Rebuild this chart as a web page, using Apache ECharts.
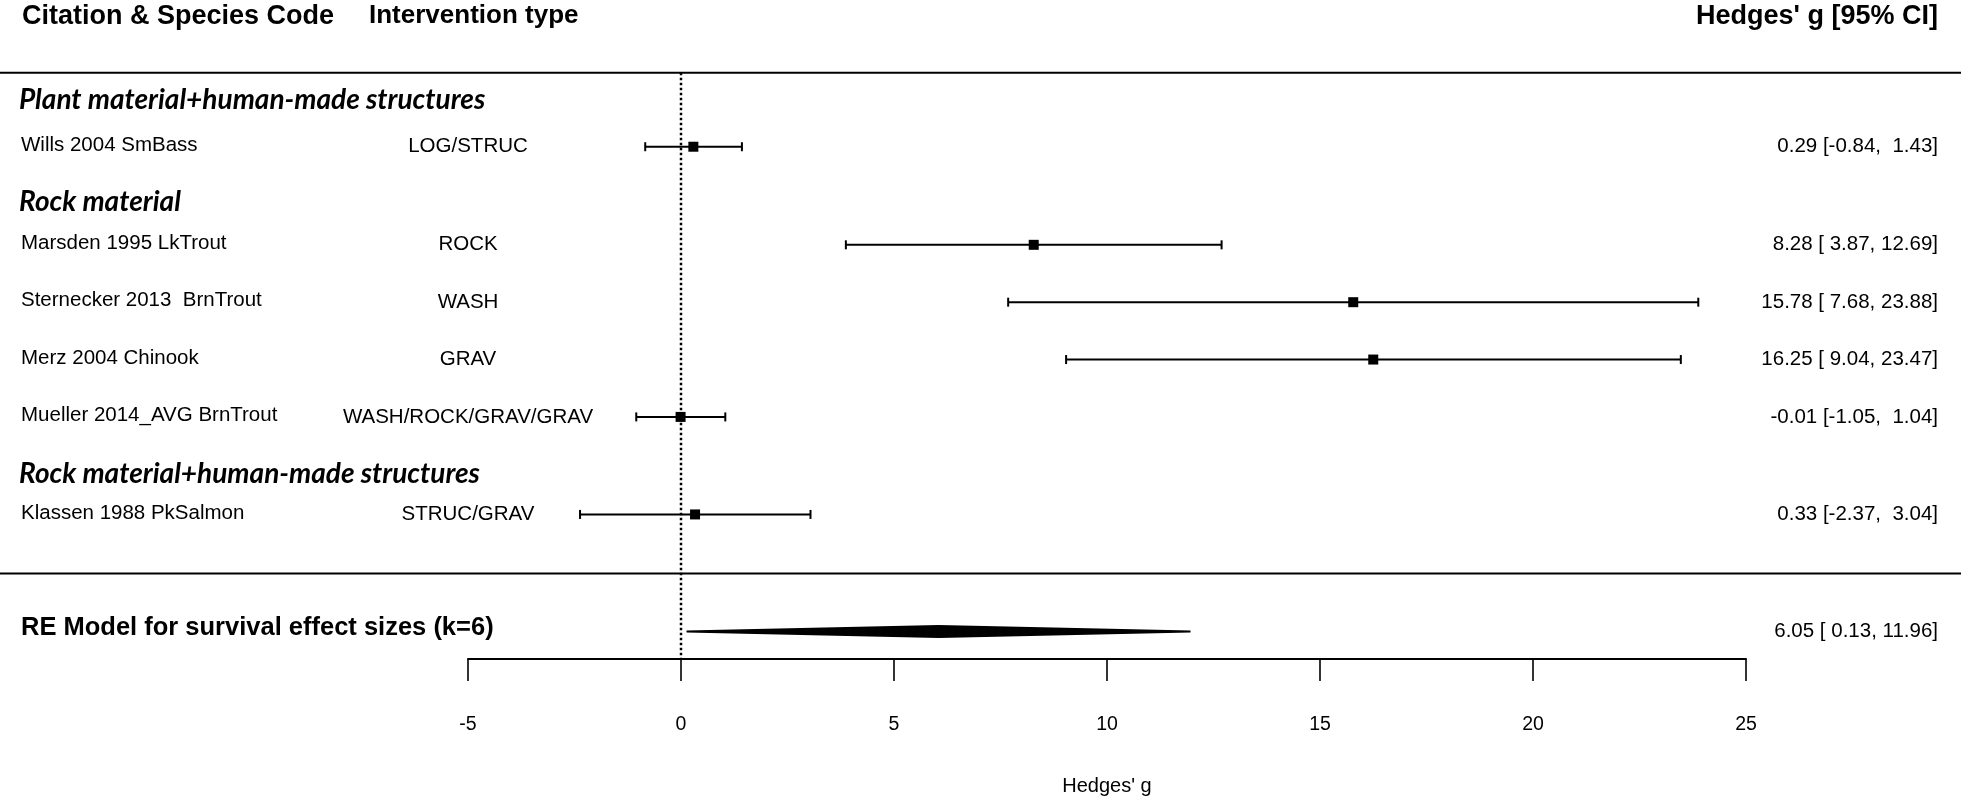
<!DOCTYPE html>
<html><head><meta charset="utf-8">
<script src="https://cdn.jsdelivr.net/npm/echarts@6/dist/echarts.min.js"></script>
<style>html,body{margin:0;padding:0;background:#fff}#c{width:1961px;height:801px}</style>
</head><body><div id="c"></div>
<script>
// ---- data ----
const studies = ["Wills 2004 SmBass", "Marsden 1995 LkTrout", "Sternecker 2013  BrnTrout", "Merz 2004 Chinook", "Mueller 2014_AVG BrnTrout", "Klassen 1988 PkSalmon"];
const interventions = ["LOG/STRUC", "ROCK", "WASH", "GRAV", "WASH/ROCK/GRAV/GRAV", "STRUC/GRAV"];
const estimates = [0.29, 8.28, 15.78, 16.25, -0.01, 0.33];
const lowerCI = [-0.84, 3.87, 7.68, 9.04, -1.05, -2.37];
const upperCI = [1.43, 12.69, 23.88, 23.47, 1.04, 3.04];
const studyRows = [1.32, 3.03, 4.03, 5.03, 6.03, 7.73];
const groupLabels = ["Plant material+human-made structures", "Rock material", "Rock material+human-made structures"];
const groupRows = [0.5, 2.29, 7.02];
const summaryLabel = "RE Model for survival effect sizes (k=6)";
const summary = [6.05, 0.13, 11.96];
const summaryRow = 9.77;
const separatorRows = [0.03, 8.76];
const xTicks = [-5, 0, 5, 10, 15, 20, 25];
const headers = ["Citation & Species Code", "Intervention type", "Hedges' g [95% CI]"];
const xLabel = "Hedges' g";

// ---- layout ----
const Y_MAX = 10.25;
const FONT = "'Liberation Sans', Arial, sans-serif";
const FS = 20.5;
const COL_STUDY = 21, COL_INT = 468, COL_CI = 1938;

function pad5(v) { let s = v.toFixed(2); while (s.length < 5) s = ' ' + s; return s; }
function ciText(e, l, u) { return e.toFixed(2) + ' [' + pad5(l) + ', ' + pad5(u) + ']'; }

const studyData = estimates.map((e, i) => [e, studyRows[i], lowerCI[i], upperCI[i], i]);

const chart = echarts.init(document.getElementById('c'), null, { renderer: 'canvas' });
chart.setOption({
  animation: false,
  backgroundColor: '#fff',
  grid: { left: 468, right: 215, top: 71, bottom: 136, containLabel: false },
  xAxis: {
    type: 'value', min: xTicks[0], max: xTicks[xTicks.length - 1], interval: 5,
    position: 'bottom',
    axisLine: { onZero: false, lineStyle: { color: '#000', width: 2 } },
    axisTick: { show: true, inside: false, length: 22, lineStyle: { color: '#000', width: 1.6 } },
    axisLabel: { color: '#000', fontSize: 19.5, fontFamily: FONT, margin: 56 },
    splitLine: { show: false },
    name: xLabel, nameLocation: 'middle', nameGap: 117,
    nameTextStyle: { color: '#000', fontSize: 20, fontFamily: FONT }
  },
  yAxis: { type: 'value', min: 0, max: Y_MAX, inverse: true, show: false },
  graphic: [
    { type: 'text', left: 22, top: 3, style: { text: headers[0], font: "bold 27px " + FONT, fill: '#000' } },
    { type: 'text', left: 369, top: 3, style: { text: headers[1], font: "bold 26px " + FONT, fill: '#000' } },
    { type: 'text', right: 1961 - COL_CI, top: 3, style: { text: headers[2], font: "bold 27px " + FONT, fill: '#000' } }
  ],
  series: [
    // reference line at 0
    {
      type: 'line', data: [[0, separatorRows[0]], [0, Y_MAX]], symbol: 'none', silent: true,
      lineStyle: { color: '#000', width: 2.5, type: [2.5, 2.5] }, z: 1
    },
    // separator lines
    {
      type: 'custom', clip: false, silent: true, data: separatorRows.map(r => [0, r]),
      renderItem: function (params, api) {
        const y = api.coord([0, api.value(1)])[1];
        return { type: 'line', shape: { x1: 0, y1: y, x2: api.getWidth(), y2: y }, style: { stroke: '#000', lineWidth: 2 } };
      }
    },
    // group labels
    {
      type: 'custom', clip: false, silent: true, data: groupRows.map((r, i) => [0, r, i]),
      renderItem: function (params, api) {
        const y = api.coord([0, api.value(1)])[1];
        return { type: 'text', x: COL_STUDY - 2, y: y, style: { text: groupLabels[api.value(2)], font: "italic bold 28px Lato, sans-serif", fill: '#000', verticalAlign: 'middle', align: 'left' } };
      }
    },
    // studies: CI, square, texts
    {
      type: 'custom', clip: false, silent: true, data: studyData,
      renderItem: function (params, api) {
        const row = api.value(1);
        const pe = api.coord([api.value(0), row]);
        const pl = api.coord([api.value(2), row]);
        const pu = api.coord([api.value(3), row]);
        const i = api.value(4);
        const y = pe[1];
        const s = 10;
        return {
          type: 'group', children: [
            { type: 'line', shape: { x1: pl[0], y1: y, x2: pu[0], y2: y }, style: { stroke: '#000', lineWidth: 2 } },
            { type: 'line', shape: { x1: pl[0], y1: y - 4.5, x2: pl[0], y2: y + 4.5 }, style: { stroke: '#000', lineWidth: 2 } },
            { type: 'line', shape: { x1: pu[0], y1: y - 4.5, x2: pu[0], y2: y + 4.5 }, style: { stroke: '#000', lineWidth: 2 } },
            { type: 'rect', shape: { x: pe[0] - s / 2, y: y - s / 2, width: s, height: s }, style: { fill: '#000' } },
            { type: 'text', x: COL_STUDY, y: y - 1.5, style: { text: studies[i], font: FS + 'px ' + FONT, fill: '#000', verticalAlign: 'middle', align: 'left' } },
            { type: 'text', x: COL_INT, y: y, style: { text: interventions[i], font: FS + 'px ' + FONT, fill: '#000', verticalAlign: 'middle', align: 'center' } },
            { type: 'text', x: COL_CI, y: y, style: { text: ciText(estimates[i], lowerCI[i], upperCI[i]), font: FS + 'px ' + FONT, fill: '#000', verticalAlign: 'middle', align: 'right' } }
          ]
        };
      }
    },
    // summary diamond
    {
      type: 'custom', clip: false, silent: true, data: [[summary[0], summaryRow, summary[1], summary[2]]],
      renderItem: function (params, api) {
        const row = api.value(1);
        const pe = api.coord([api.value(0), row]);
        const pl = api.coord([api.value(2), row]);
        const pu = api.coord([api.value(3), row]);
        const y = pe[1];
        return {
          type: 'group', children: [
            { type: 'polygon', shape: { points: [[pl[0], y], [pe[0], y - 5.5], [pu[0], y], [pe[0], y + 5.5]] }, style: { fill: '#000', stroke: '#000', lineWidth: 2 } },
            { type: 'text', x: COL_STUDY, y: y - 3, style: { text: summaryLabel, font: 'bold 25.5px ' + FONT, fill: '#000', verticalAlign: 'middle', align: 'left' } },
            { type: 'text', x: COL_CI, y: y, style: { text: ciText(summary[0], summary[1], summary[2]), font: FS + 'px ' + FONT, fill: '#000', verticalAlign: 'middle', align: 'right' } }
          ]
        };
      }
    }
  ]
});
</script>
</body></html>
